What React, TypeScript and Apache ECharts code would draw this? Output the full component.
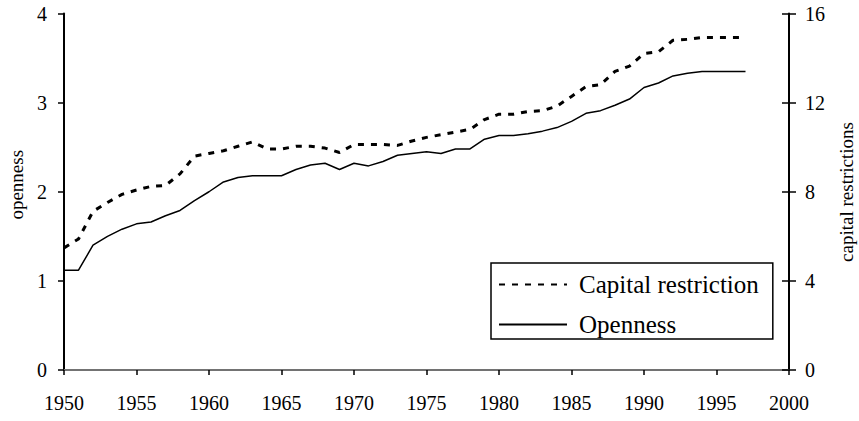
import React, { useEffect, useRef } from "react";
import * as echarts from "echarts";

const years: number[] = [];
for (let y = 1950; y <= 1997; y++) years.push(y);

const openness = [
  1.12, 1.12, 1.40, 1.50, 1.58, 1.64, 1.66, 1.73, 1.79, 1.90,
  2.00, 2.11, 2.16, 2.18, 2.18, 2.18, 2.25, 2.30, 2.32, 2.25,
  2.32, 2.29, 2.34, 2.41, 2.43, 2.45, 2.43, 2.48, 2.48, 2.59,
  2.63, 2.63, 2.65, 2.68, 2.72, 2.79, 2.88, 2.91, 2.97, 3.04,
  3.17, 3.22, 3.30, 3.33, 3.35, 3.35, 3.35, 3.35,
];

const capitalRestriction = [
  5.48, 5.88, 7.12, 7.52, 7.88, 8.08, 8.24, 8.28, 8.8, 9.6,
  9.72, 9.84, 10.04, 10.24, 9.92, 9.92, 10.04, 10.04, 9.96, 9.76,
  10.12, 10.12, 10.12, 10.08, 10.28, 10.44, 10.56, 10.68, 10.8, 11.24,
  11.48, 11.48, 11.6, 11.64, 11.84, 12.28, 12.72, 12.8, 13.4, 13.64,
  14.2, 14.28, 14.8, 14.84, 14.92, 14.92, 14.92, 14.92,
];

const FONT = "'Liberation Serif', 'Times New Roman', serif";

export default function App() {
  const ref = useRef<HTMLDivElement>(null);
  useEffect(() => {
    if (!ref.current) return;
    const chart = echarts.init(ref.current, null, { renderer: "svg" });
    const labelStyle = { fontFamily: FONT, fontSize: 20, color: "#000" };
    chart.setOption({
      animation: false,
      backgroundColor: "#fff",
      textStyle: { fontFamily: FONT, color: "#000" },
      grid: { left: 64, right: 70, top: 13.5, bottom: 51, containLabel: false, outerBoundsMode: "none" },
      legend: {
        orient: "vertical",
        left: 491,
        top: 263,
        data: ["Capital restriction", "Openness"],
        padding: [9, 14, 2, 7],
        itemGap: 15,
        itemWidth: 68,
        itemHeight: 20,
        borderColor: "#000",
        borderWidth: 1.5,
        borderRadius: 0,
        itemStyle: { opacity: 0 },
        textStyle: { fontFamily: FONT, fontSize: 25, color: "#000", lineHeight: 25, padding: [0, 0, 0, 7] },
      },
      graphic: [
        {
          type: "text",
          x: 846,
          y: 192,
          rotation: Math.PI / 2,
          style: {
            text: "capital restrictions",
            font: `19px ${FONT}`,
            fill: "#000",
            textAlign: "center",
            textVerticalAlign: "middle",
          },
        },
      ],
      xAxis: [
        {
          type: "value",
          min: 1950,
          max: 2000,
          interval: 5,
          axisLine: { show: true, lineStyle: { color: "#000", width: 2 } },
          axisTick: { show: true, length: 5, lineStyle: { color: "#000", width: 1.5 } },
          axisLabel: { ...labelStyle, margin: 23, formatter: (v: number) => String(v) },
          splitLine: { show: false },
        },
        {
          type: "value",
          position: "top",
          min: 1950,
          max: 2000,
          axisLine: { show: true, lineStyle: { color: "#999", width: 1.5 } },
          axisTick: { show: false },
          axisLabel: { show: false },
          splitLine: { show: false },
        },
      ],
      yAxis: [
        {
          type: "value",
          position: "left",
          min: 0,
          max: 4,
          interval: 1,
          name: "openness",
          nameLocation: "middle",
          nameGap: 38,
          nameTextStyle: { fontFamily: FONT, fontSize: 19, color: "#000", padding: [0, 0, 0, 14] },
          axisLine: { show: true, lineStyle: { color: "#000", width: 2 } },
          axisTick: { show: true, length: 6, lineStyle: { color: "#000", width: 1.5 } },
          axisLabel: { ...labelStyle, margin: 17 },
          splitLine: { show: false },
        },
        {
          type: "value",
          position: "right",
          min: 0,
          max: 16,
          interval: 4,
          axisLine: { show: true, lineStyle: { color: "#000", width: 2 } },
          axisTick: { show: true, length: 7, lineStyle: { color: "#000", width: 1.5 } },
          axisLabel: { ...labelStyle, margin: 16 },
          splitLine: { show: false },
        },
        {
          type: "value",
          position: "right",
          min: 0,
          max: 16,
          interval: 4,
          axisLine: { show: false },
          axisTick: { show: true, inside: true, length: 7, lineStyle: { color: "#000", width: 1.5 } },
          axisLabel: { show: false },
          splitLine: { show: false },
        },
      ],
      series: [
        {
          name: "Capital restriction",
          type: "line",
          yAxisIndex: 1,
          data: years.map((y, i) => [y, capitalRestriction[i]]),
          showSymbol: false,
          symbol: "none",
          lineStyle: { color: "#000", width: 3, type: [6, 7] },
          itemStyle: { color: "#000" },
        },
        {
          name: "Openness",
          type: "line",
          yAxisIndex: 0,
          data: years.map((y, i) => [y, openness[i]]),
          showSymbol: false,
          symbol: "none",
          lineStyle: { color: "#000", width: 1.5, type: "solid" },
          itemStyle: { color: "#000" },
        },
      ],
    });
    return () => chart.dispose();
  }, []);
  return (
    <div
      ref={ref}
      style={{ position: "fixed", left: 0, top: 0, width: 859, height: 421, background: "#fff" }}
    />
  );
}
